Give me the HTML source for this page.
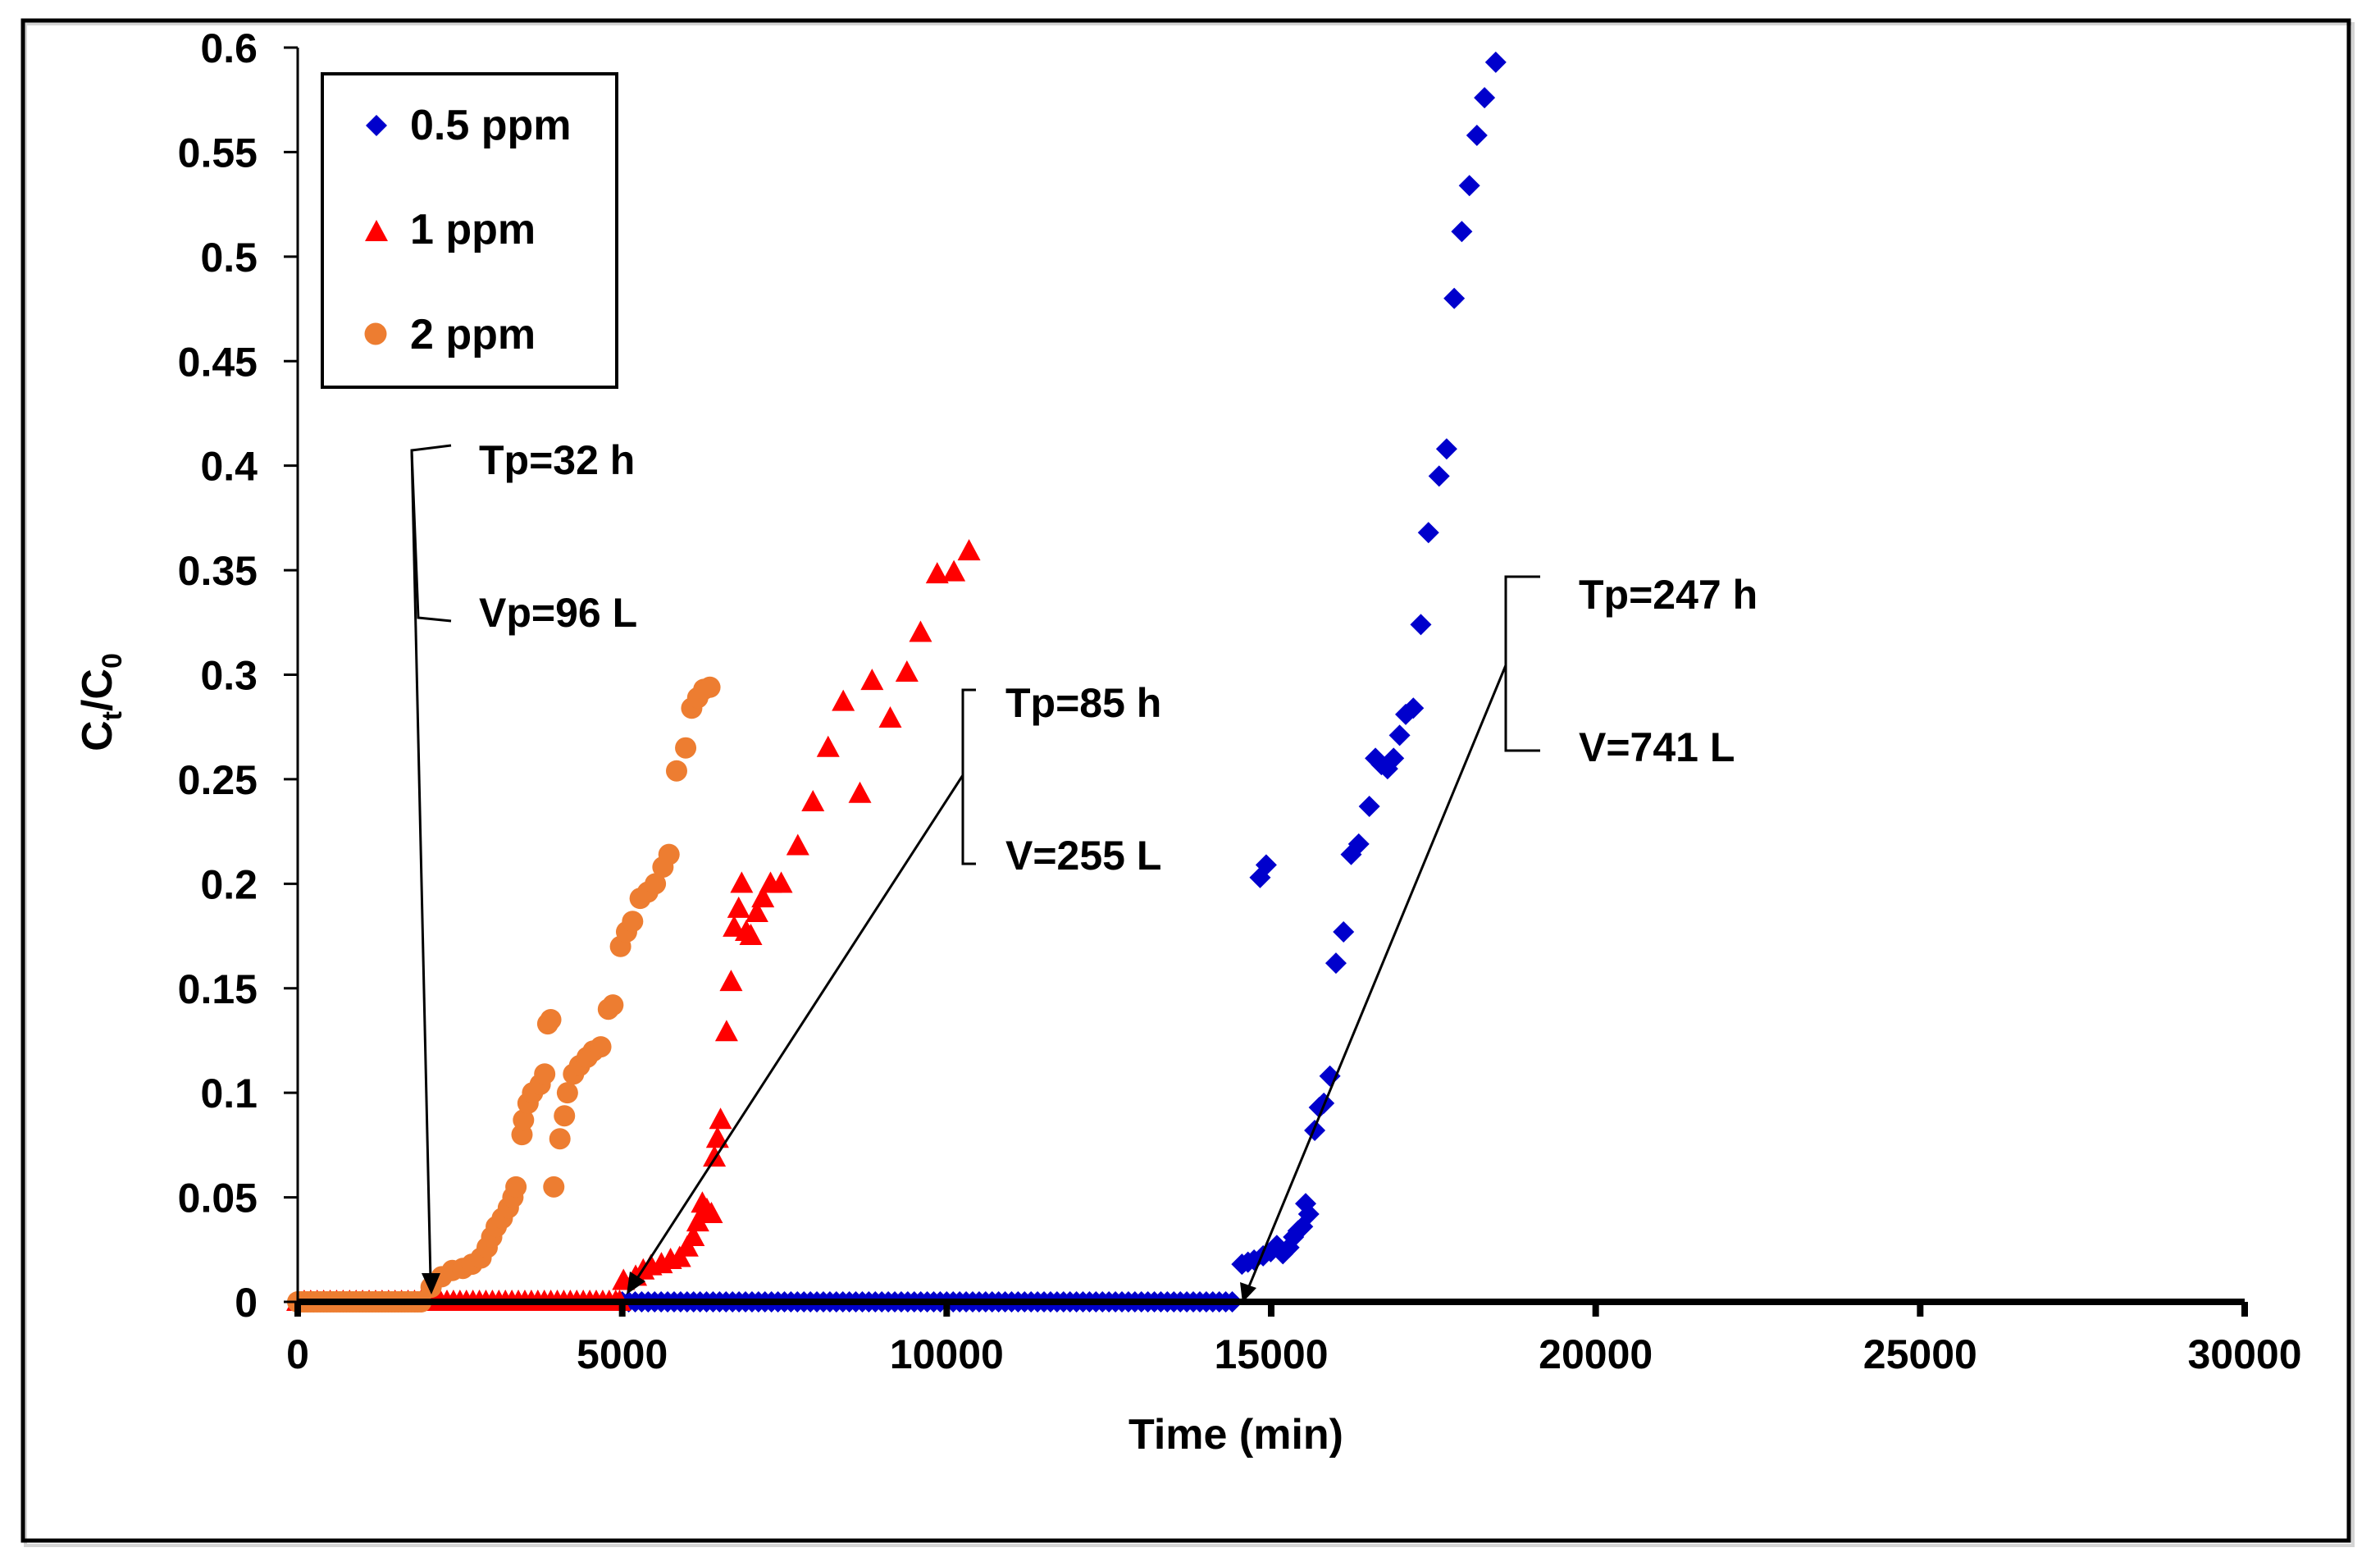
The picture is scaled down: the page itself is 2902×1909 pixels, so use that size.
<!DOCTYPE html>
<html><head><meta charset="utf-8"><style>
html,body{margin:0;padding:0;background:#fff}
svg{display:block}
text{font-family:"Liberation Sans",Arial,sans-serif;font-weight:bold;fill:#000}
</style></head><body>
<svg id="chart" width="2902" height="1909" viewBox="0 0 2902 1909" xmlns="http://www.w3.org/2000/svg">
<rect x="31" y="29" width="2838" height="1855" fill="none" stroke="#d4d4d4" stroke-width="4"/>
<rect x="28" y="25" width="2836" height="1853" fill="none" stroke="#000" stroke-width="5"/>
<g id="axes"></g>
<g id="marks"></g>
<g fill="none" stroke="#000" stroke-width="3">
<polyline points="550,543 502,549 510,753 550,757"/>
<line x1="502" y1="549" x2="525" y2="1560"/>
<polygon points="514,1552 537,1552 526,1578" fill="#000" stroke="none"/>
<polyline points="1190,841 1174,841 1174,1053 1190,1053"/>
<line x1="1174" y1="945" x2="774" y2="1563"/>
<polygon points="764,1578 768,1550 787,1562" fill="#000" stroke="none"/>
<polyline points="1878,703 1836,703 1836,915 1878,915"/>
<line x1="1836" y1="811" x2="1521" y2="1573"/>
<polygon points="1515,1588 1512,1563 1532,1570" fill="#000" stroke="none"/>
</g>
<text x="584" y="578" font-size="50">Tp=32 h</text>
<text x="584" y="764" font-size="50">Vp=96 L</text>
<text x="1226" y="874" font-size="50">Tp=85 h</text>
<text x="1226" y="1060" font-size="50">V=255 L</text>
<text x="1925" y="742" font-size="50">Tp=247 h</text>
<text x="1925" y="928" font-size="50">V=741 L</text>
<g>
<rect x="393" y="90" width="359" height="382" fill="#fff" stroke="#000" stroke-width="4"/>
<polygon points="459,140 472,153 459,166 446,153" fill="#0000CC"/>
<text x="500" y="170" font-size="52">0.5 ppm</text>
<polygon points="459,268 473,294 445,294" fill="#FF0000"/>
<text x="500" y="297" font-size="52">1 ppm</text>
<circle cx="458" cy="407" r="13.5" fill="#ED7D31"/>
<text x="500" y="425" font-size="52">2 ppm</text>
</g>
<text x="1507" y="1766" font-size="52" text-anchor="middle">Time (min)</text>
<text transform="translate(136,856) rotate(-90)" font-size="52" text-anchor="middle">C<tspan font-size="34" dy="12">t</tspan><tspan dy="-12">/C</tspan><tspan font-size="34" dy="12">0</tspan></text>
</svg>
<script>
const xTicks=[0,5000,10000,15000,20000,25000,30000];
const yTicks=[0,0.05,0.1,0.15,0.2,0.25,0.3,0.35,0.4,0.45,0.5,0.55,0.6];
const yTickLabels=["0","0.05","0.1","0.15","0.2","0.25","0.3","0.35","0.4","0.45","0.5","0.55","0.6"];
const x05base=[5000,5100,5200,5300,5400,5500,5600,5700,5800,5900,6000,6100,6200,6300,6400,6500,6600,6700,6800,6900,7000,7100,7200,7300,7400,7500,7600,7700,7800,7900,8000,8100,8200,8300,8400,8500,8600,8700,8800,8900,9000,9100,9200,9300,9400,9500,9600,9700,9800,9900,10000,10100,10200,10300,10400,10500,10600,10700,10800,10900,11000,11100,11200,11300,11400,11500,11600,11700,11800,11900,12000,12100,12200,12300,12400,12500,12600,12700,12800,12900,13000,13100,13200,13300,13400,13500,13600,13700,13800,13900,14000,14100,14200,14300,14400];
const x05=[14549,14642,14736,14829,14923,14876,14993,15087,15180,15274,15344,15414,15484,15531,15578,15671,15741,15811,15905,15998,16115,16232,16349,16512,16606,16699,16793,16886,16979,17073,17190,17306,17423,17587,17703,17820,17937,18054,18170,18287,18460];
const y05=[0.018,0.019,0.020,0.203,0.209,0.022,0.024,0.027,0.023,0.026,0.031,0.034,0.036,0.047,0.042,0.082,0.093,0.095,0.108,0.162,0.177,0.214,0.219,0.237,0.260,0.257,0.255,0.260,0.271,0.281,0.284,0.324,0.368,0.395,0.408,0.480,0.512,0.534,0.558,0.576,0.593];
const x1base=[0,100,200,300,400,500,600,700,800,900,1000,1100,1200,1300,1400,1500,1600,1700,1800,1900,2000,2100,2200,2300,2400,2500,2600,2700,2800,2900,3000,3100,3200,3300,3400,3500,3600,3700,3800,3900,4000,4100,4200,4300,4400,4500,4600,4700,4800,4900,4960];
const x1=[5020,5207,5324,5441,5604,5745,5885,6001,6095,6165,6235,6305,6375,6421,6468,6515,6608,6678,6725,6795,6841,6912,6982,7075,7168,7285,7450,7706,7939,8173,8406,8663,8850,9130,9387,9597,9854,10111,10344];
const y1=[0.010,0.012,0.015,0.017,0.018,0.020,0.021,0.026,0.031,0.038,0.047,0.044,0.042,0.069,0.078,0.087,0.129,0.153,0.179,0.188,0.200,0.177,0.175,0.186,0.193,0.200,0.200,0.218,0.239,0.265,0.287,0.243,0.297,0.279,0.301,0.320,0.348,0.349,0.359];
const x2base=[0,50,100,150,200,250,300,350,400,450,500,550,600,650,700,750,800,850,900,950,1000,1050,1100,1150,1200,1250,1300,1350,1400,1450,1500,1550,1600,1650,1700,1750,1800,1850,1900];
const x2=[2055,2218,2382,2545,2685,2825,2919,2989,3059,3152,3246,3316,3363,3456,3479,3549,3619,3736,3806,3853,3899,3946,4040,4110,4156,4250,4343,4460,4553,4670,4787,4857,4974,5067,5160,5277,5394,5511,5628,5721,5838,5978,6071,6164,6258,6351];
const y2=[0.007,0.012,0.015,0.016,0.018,0.021,0.026,0.031,0.036,0.040,0.045,0.050,0.055,0.080,0.087,0.095,0.100,0.104,0.109,0.133,0.135,0.055,0.078,0.089,0.100,0.109,0.113,0.117,0.120,0.122,0.140,0.142,0.170,0.177,0.182,0.193,0.196,0.200,0.208,0.214,0.254,0.265,0.284,0.289,0.293,0.294];

const X0=363,X1=2737,Y0=1587,Y1=58;
const sx=v=>X0+(v/30000)*(X1-X0);
const sy=v=>Y0-(v/0.6)*(Y0-Y1);
const NS="http://www.w3.org/2000/svg";
function mk(tag,attrs,parent){const e=document.createElementNS(NS,tag);for(const k in attrs)e.setAttribute(k,attrs[k]);parent.appendChild(e);return e;}
const axes=document.getElementById('axes'), marks=document.getElementById('marks');

const ya=mk('line',{x1:X0,y1:Y1,x2:X0,y2:Y0,stroke:'#000','stroke-width':3},axes);


yTicks.forEach((t,i)=>{
  const tk=mk('line',{x1:X0-17,y1:sy(t),x2:X0,y2:sy(t),stroke:'#000','stroke-width':3},axes);
  
  
  const lb=mk('text',{x:314,y:sy(t)+18,'font-size':50,'text-anchor':'end'},axes);
  lb.textContent=yTickLabels[i];
  
  
});
xTicks.forEach(t=>{
  const tk=mk('line',{x1:sx(t),y1:Y0,x2:sx(t),y2:Y0+18,stroke:'#000','stroke-width':8},axes);
  
  
  const lb=mk('text',{x:sx(t),y:1668,'font-size':50,'text-anchor':'middle'},axes);
  lb.textContent=String(t);
  
  
});

function diamond(x,y){const p=mk('polygon',{points:`${x},${y-13} ${x+13},${y} ${x},${y+13} ${x-13},${y}`,fill:'#0000CC'},marks);
  
  }
function tri(x,y){const p=mk('polygon',{points:`${x},${y-15} ${x+14},${y+11} ${x-14},${y+11}`,fill:'#FF0000'},marks);
  
  }
function circ(x,y){const p=mk('circle',{cx:x,cy:y,r:13,fill:'#ED7D31'},marks);
  
  }
x05base.forEach(v=>diamond(sx(v),sy(0)));
x05.forEach((v,i)=>diamond(sx(v),sy(y05[i])));
x1base.forEach(v=>tri(sx(v),sy(0)));
x1.forEach((v,i)=>tri(sx(v),sy(y1[i])));
x2base.forEach(v=>circ(sx(v),sy(0)));
x2.forEach((v,i)=>circ(sx(v),sy(y2[i])));

const xa=mk('line',{x1:X0,y1:Y0,x2:X1,y2:Y0,stroke:'#000','stroke-width':8},axes);


axes.parentNode.appendChild(axes);
</script>
</body></html>
